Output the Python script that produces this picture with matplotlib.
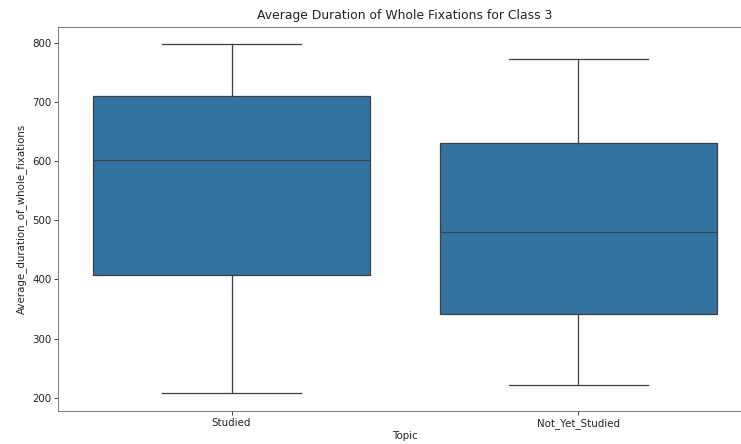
import matplotlib.pyplot as plt

topics = ["Studied", "Not_Yet_Studied"]
whislo = [208, 222]
q1 = [408, 341]
med = [601, 480]
q3 = [709, 630]
whishi = [797, 773]

box_color = "#3274a1"
line_color = "#3f3f3f"

stats = [
    {"label": t, "whislo": lo, "q1": a, "med": m, "q3": b, "whishi": hi, "fliers": []}
    for t, lo, a, m, b, hi in zip(topics, whislo, q1, med, q3, whishi)
]

fig = plt.figure(figsize=(7.41, 4.44), dpi=100)
ax = fig.add_axes([0.0783, 0.0743, 0.9365, 0.865])

lw = 0.9
ax.bxp(stats, positions=[0, 1], widths=0.8, patch_artist=True, showfliers=False,
       boxprops=dict(facecolor=box_color, edgecolor=line_color, linewidth=lw),
       medianprops=dict(color=line_color, linewidth=lw),
       whiskerprops=dict(color=line_color, linewidth=lw),
       capprops=dict(color=line_color, linewidth=lw),
       capwidths=0.4)

ax.set_xlim(-0.5, 1.5)
ax.set_ylim(177.5, 826.5)
ax.set_xticks([0, 1], topics)
ax.set_yticks([200, 300, 400, 500, 600, 700, 800])
ax.tick_params(labelsize=7.4, width=0.6, length=2.6, pad=2.2, colors="#222222")
for s in ax.spines.values():
    s.set_linewidth(0.6)
    s.set_color("#666666")

ax.set_title("Average Duration of Whole Fixations for Class 3", fontsize=8.9,
             color="#222222", pad=6)
ax.set_xlabel("Topic", fontsize=7.4, color="#222222", labelpad=1.5)
ax.set_ylabel("Average_duration_of_whole_fixations", fontsize=7.4, color="#222222",
              labelpad=4)

fig.savefig("out.png", dpi=100)
